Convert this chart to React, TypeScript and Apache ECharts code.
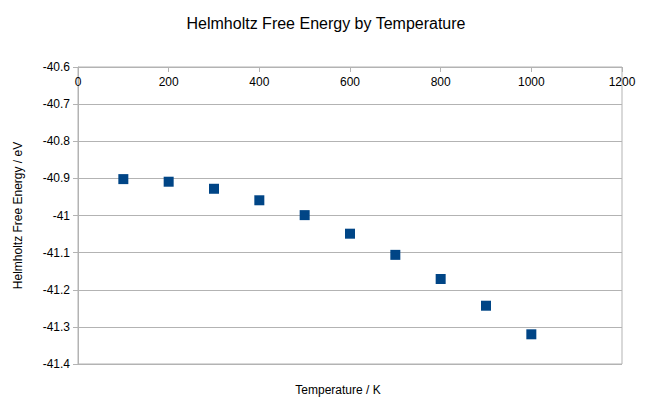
import React, { useEffect, useRef } from "react";
import * as echarts from "echarts";

const temperatures = [100, 200, 300, 400, 500, 600, 700, 800, 900, 1000];
const freeEnergy = [-40.902, -40.909, -40.928, -40.959, -40.999, -41.049, -41.106, -41.171, -41.243, -41.32];

const titleText = "Helmholtz Free Energy by Temperature";
const xName = "Temperature / K";
const yName = "Helmholtz Free Energy / eV";

export default function App() {
  const ref = useRef<HTMLDivElement>(null);
  useEffect(() => {
    if (!ref.current) return;
    const chart = echarts.init(ref.current, null, { renderer: "svg" });
    const font = "'Liberation Sans', Arial, sans-serif";
    chart.setOption({
      animation: false,
      textStyle: { fontFamily: font },
      title: {
        text: titleText,
        left: "center",
        top: 10,
        textStyle: { fontSize: 16, fontWeight: "normal", color: "#000", fontFamily: font },
      },
      graphic: [
        {
          type: "text",
          x: 338,
          y: 390,
          style: {
            text: xName,
            fill: "#000",
            font: `12px ${font}`,
            textAlign: "center",
            textVerticalAlign: "middle",
          },
        },
      ],
      grid: {
        left: 78,
        right: 30,
        top: 67,
        bottom: 43,
        show: true,
        borderColor: "#b3b3b3",
        borderWidth: 1,
      },
      xAxis: {
        type: "value",
        position: "top",
        min: 0,
        max: 1200,
        interval: 200,
        axisLine: { show: true, onZero: false, lineStyle: { color: "#b3b3b3" } },
        axisTick: { show: true, inside: true, length: 5, lineStyle: { color: "#b3b3b3" } },
        axisLabel: {
          inside: true,
          margin: 9,
          color: "#000",
          fontSize: 12,
          fontFamily: font,
          formatter: (v: number) => String(v),
        },
        splitLine: { show: false },
      },
      yAxis: {
        type: "value",
        min: -41.4,
        max: -40.6,
        interval: 0.1,
        name: yName,
        nameLocation: "middle",
        nameGap: 54,
        nameTextStyle: { color: "#000", fontSize: 12, fontFamily: font },
        axisLine: { show: true, lineStyle: { color: "#b3b3b3" } },
        axisTick: { show: true, length: 5, lineStyle: { color: "#b3b3b3" } },
        axisLabel: {
          color: "#000",
          fontSize: 12,
          margin: 8,
          fontFamily: font,
          formatter: (v: number) => String(Math.round(v * 10) / 10),
        },
        splitLine: { show: true, lineStyle: { color: "#b3b3b3" } },
      },
      series: [
        {
          type: "scatter",
          symbol: "rect",
          symbolSize: 10,
          itemStyle: { color: "#004586", opacity: 1 },
          data: temperatures.map((t, i) => [t, freeEnergy[i]]),
        },
      ],
    });
    return () => chart.dispose();
  }, []);
  return <div ref={ref} style={{ position: "absolute", left: 0, top: 0, width: 652, height: 407 }} />;
}
